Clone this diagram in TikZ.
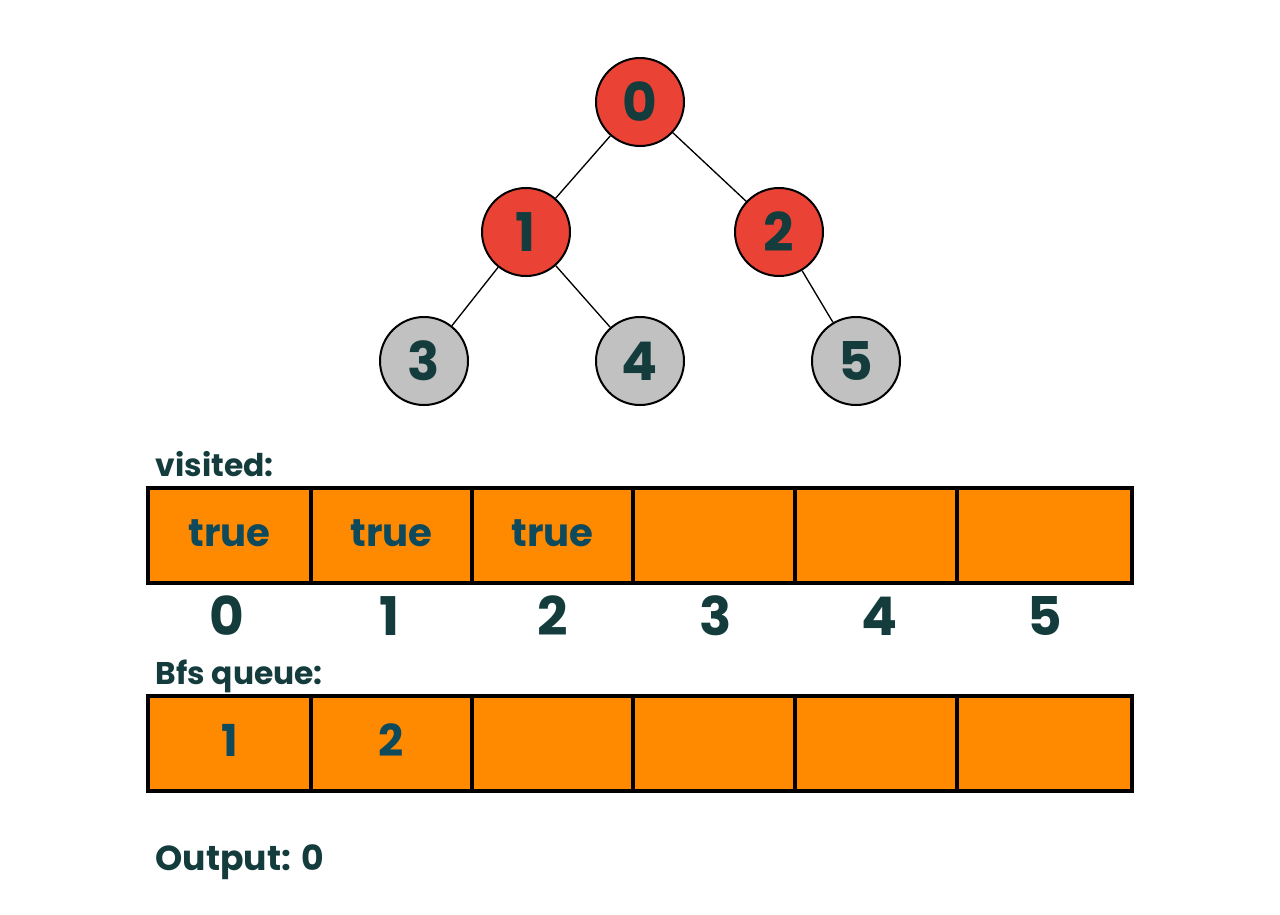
\documentclass[tikz,border=0pt]{standalone}
\usepackage{fontspec}
\setmainfont{Poppins}[UprightFont=* SemiBold, BoldFont=* Bold]
\definecolor{nred}{HTML}{EA4335}
\definecolor{ngray}{HTML}{C1C1C1}
\definecolor{orng}{HTML}{FF8A00}
\definecolor{ink}{HTML}{143C3C}
\definecolor{inkb}{HTML}{0F4A5C}
\tikzset{
  vnode/.style={circle, draw=black, line width=1.5pt, minimum size=66pt, inner sep=0pt, text=ink, font=\fontsize{40}{40}\selectfont\bfseries},
  visitedn/.style={vnode, fill=nred},
  freshn/.style={vnode, fill=ngray},
  edge/.style={draw=black, line width=1pt},
  cellbox/.style={draw=black, line width=3pt, fill=orng},
  celltxt/.style={text=inkb, font=\fontsize{29}{29}\selectfont\bfseries},
  qtxt/.style={text=inkb, font=\fontsize{33}{33}\selectfont\bfseries},
  idx/.style={text=ink, font=\fontsize{40}{40}\selectfont\bfseries},
  lbl/.style={text=ink, anchor=base west, font=\fontsize{23.5}{24}\selectfont\bfseries}
}
\begin{document}
\begin{tikzpicture}[x=0.75pt,y=-0.75pt]
\useasboundingbox[fill=white] (0,0) rectangle (1280,914);
% tree
\node[visitedn] (n0) at (640,102) {0};
\node[visitedn] (n1) at (526,232) {1};
\node[visitedn] (n2) at (779,232) {2};
\node[freshn] (n3) at (424,361) {3};
\node[freshn] (n4) at (640,361) {4};
\node[freshn] (n5) at (856,361) {5};
\draw[edge] (n0) -- (n1);
\draw[edge] (n0) -- (n2);
\draw[edge] (n1) -- (n3);
\draw[edge] (n1) -- (n4);
\draw[edge] (n2) -- (n5);
% visited array
\node[lbl] (lv) at (151,476) {visited:};
\foreach \i/\a/\b/\t/\c in {0/148/311/true/227,1/311/472/true/390,2/472/633/true/553,3/633/795//716,4/795/957//880,5/957/1132//1045} {
  \draw[cellbox] (\a,488) rectangle (\b,583);
  \node[celltxt] (vt\i) at ({(\a+\b)/2},533) {\t};
  \node[idx] (vi\i) at (\c,616) {\i};
}
% queue
\node[lbl] (lq) at (151,684) {Bfs queue:};
\foreach \i/\a/\b/\t in {0/148/311/1,1/311/472/2,2/472/633/,3/633/795/,4/795/957/,5/957/1132/} {
  \draw[cellbox] (\a,696) rectangle (\b,791);
  \node[qtxt] (qt\i) at ({(\a+\b)/2},740) {\t};
}
\node[lbl, font=\fontsize{26}{26}\selectfont\bfseries] (out) at (151,870) {Output: 0};
\end{tikzpicture}
\end{document}
